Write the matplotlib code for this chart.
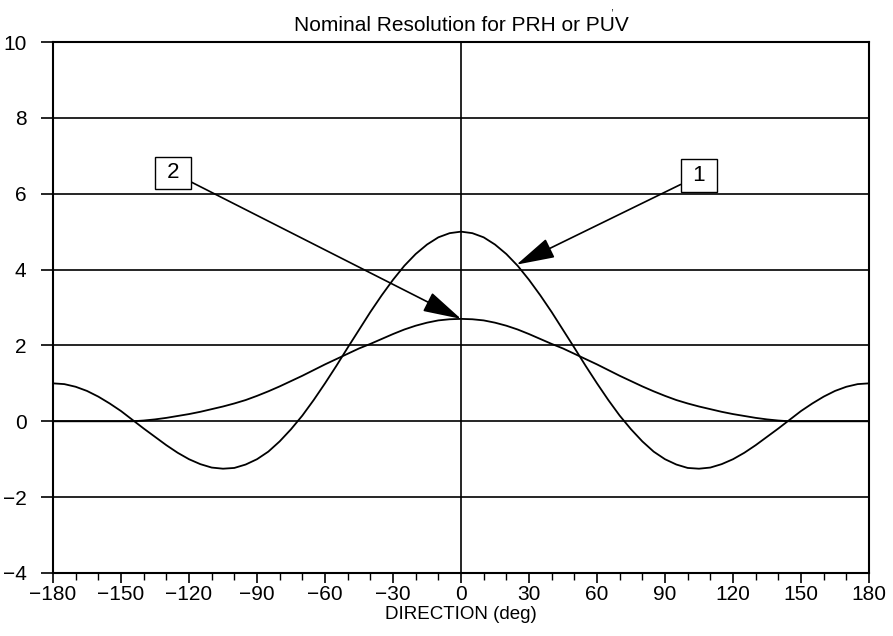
import matplotlib
matplotlib.use("Agg")
import matplotlib.pyplot as plt
from matplotlib.ticker import MultipleLocator

plt.rcParams['font.family'] = ['Liberation Sans', 'DejaVu Sans']

direction = list(range(-180, 181, 5))

curve1 = [1.00, 0.98, 0.91, 0.80, 0.65, 0.47, 0.27, 0.04, -0.19, -0.41,
          -0.63, -0.83, -1.00, -1.13, -1.22, -1.25, -1.23, -1.14, -1.00, -0.80,
          -0.53, -0.21, 0.15, 0.56, 1.00, 1.46, 1.94, 2.41, 2.88, 3.32,
          3.73, 4.10, 4.41, 4.66, 4.85, 4.96, 5.00,
          4.96, 4.85, 4.66, 4.41, 4.10, 3.73, 3.32, 2.88, 2.41, 1.94,
          1.46, 1.00, 0.56, 0.15, -0.21, -0.53, -0.80, -1.00, -1.14, -1.23,
          -1.25, -1.22, -1.13, -1.00, -0.83, -0.63, -0.41, -0.19, 0.04, 0.27,
          0.47, 0.65, 0.80, 0.91, 0.98, 1.00]

curve2 = [0.00, 0.00, 0.00, 0.00, 0.00, 0.00, 0.00, 0.00, 0.02, 0.05,
          0.09, 0.14, 0.19, 0.25, 0.32, 0.39, 0.47, 0.56, 0.67, 0.79,
          0.92, 1.06, 1.20, 1.35, 1.50, 1.64, 1.78, 1.92, 2.04, 2.17,
          2.30, 2.42, 2.52, 2.60, 2.66, 2.69, 2.70,
          2.69, 2.66, 2.60, 2.52, 2.42, 2.30, 2.17, 2.04, 1.92, 1.78,
          1.64, 1.50, 1.35, 1.20, 1.06, 0.92, 0.79, 0.67, 0.56, 0.47,
          0.39, 0.32, 0.25, 0.19, 0.14, 0.09, 0.05, 0.02, 0.00, 0.00,
          0.00, 0.00, 0.00, 0.00, 0.00, 0.00]

x_ticks = list(range(-180, 181, 30))
y_ticks = list(range(-4, 11, 2))

labels = ["1", "2"]
label_pos = [(105, 6.48), (-127, 6.55)]
arrow_tip = [(24.5, 4.13), (0, 2.70)]

fig = plt.figure(figsize=(8.93, 6.36), dpi=100)
ax = fig.add_axes([53/893, 1 - 573/636, (869 - 53)/893, (573 - 42)/636])

for yv in y_ticks:
    ax.axhline(yv, color='black', lw=1.2, zorder=1)
ax.axvline(0, color='black', lw=1.2, zorder=1)

ax.plot(direction, curve1, color='black', lw=1.3, zorder=2)
ax.plot(direction, curve2, color='black', lw=1.3, zorder=2)

for lab, pos, tip in zip(labels, label_pos, arrow_tip):
    ax.annotate(' ' + lab + ' ', xy=tip, xytext=pos, ha='center', va='center', fontsize=16,
                bbox=dict(boxstyle='square,pad=0.25', fc='white', ec='black', lw=1.0),
                arrowprops=dict(arrowstyle='-|>,head_length=2.4,head_width=0.65',
                                mutation_scale=10, color='black', lw=1.2,
                                shrinkA=0, shrinkB=0),
                zorder=3)

ax.set_xlim(-180, 180)
ax.set_ylim(-4, 10)
ax.set_xticks(x_ticks)
ax.set_xticklabels([str(v).replace('-', '\u2212') for v in x_ticks])
ax.set_yticks(y_ticks)
ax.set_yticklabels([str(v).replace('-', '\u2212') for v in y_ticks])
ax.xaxis.set_minor_locator(MultipleLocator(10))
ax.tick_params(axis='both', which='major', direction='out', width=1.2, labelsize=15)
ax.tick_params(axis='x', which='major', length=7, pad=2)
ax.tick_params(axis='y', which='major', length=9, pad=10)
ax.tick_params(axis='x', which='minor', direction='out', length=5, width=1.0)
for s in ax.spines.values():
    s.set_linewidth(1.5)

ax.set_xlabel('DIRECTION (deg)', fontsize=13.5, labelpad=1)
ax.set_title('Nominal Resolution for PRH or PUV', fontsize=15, pad=8)
fig.text(612/893, 1 - 7/636, ',', fontsize=8, ha='center', va='center')

fig.savefig('out.png', dpi=100)
